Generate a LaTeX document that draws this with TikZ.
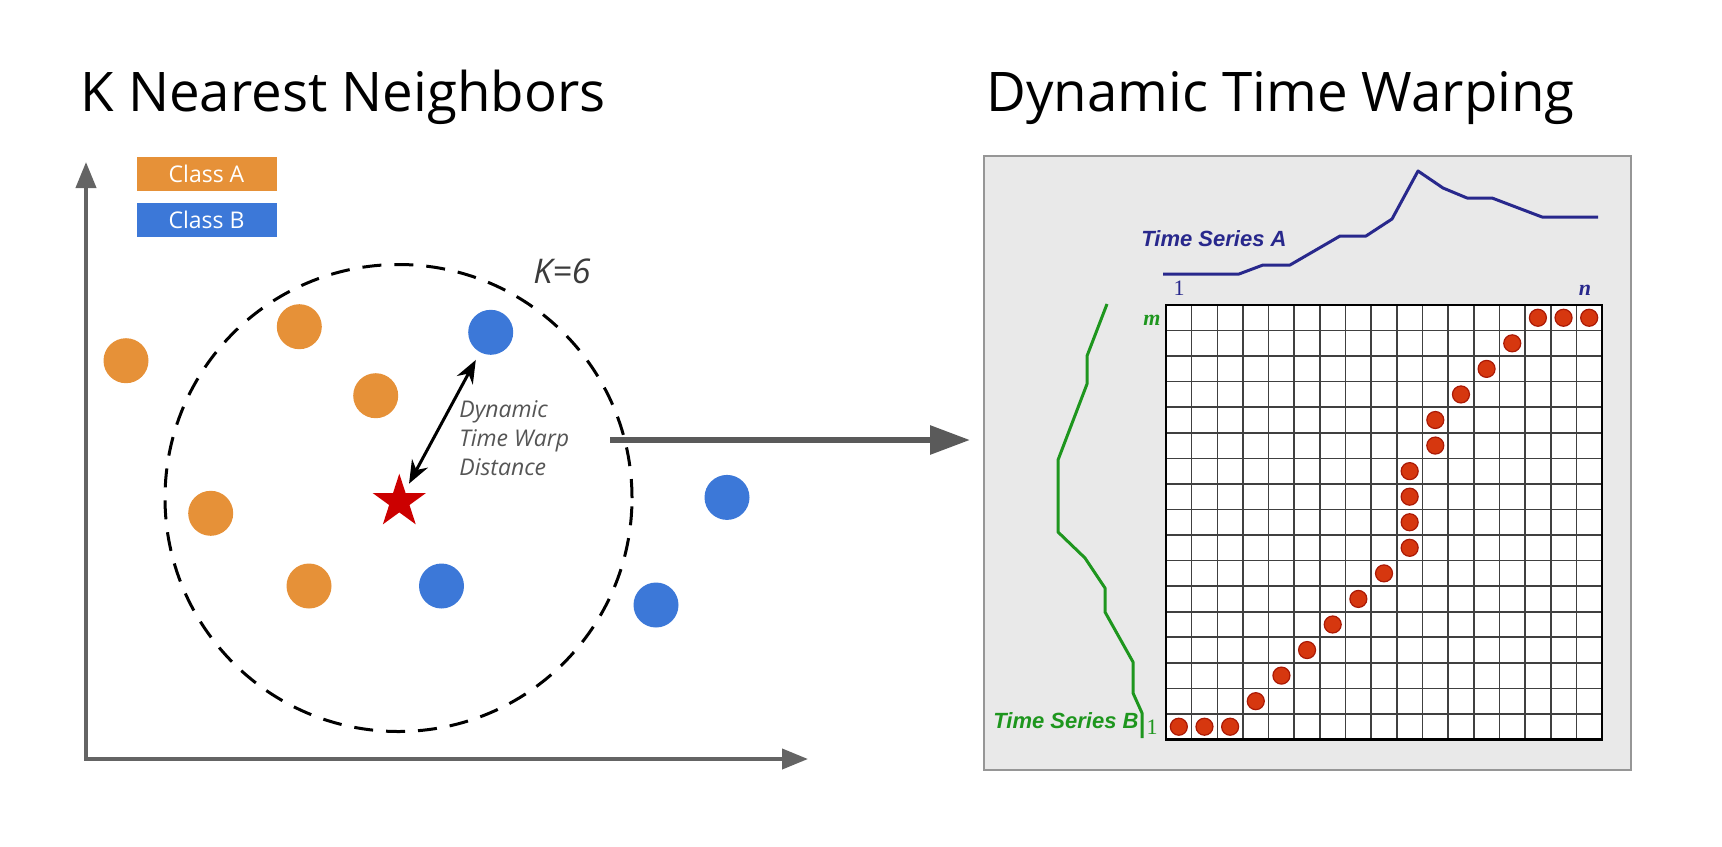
\documentclass[tikz,border=0pt]{standalone}
\usepackage{fontspec}
\setmainfont{Open Sans}
\newfontfamily\seriesfont{Liberation Sans}
\newfontfamily\indexfont{Liberation Serif}
\usepackage{tikz}
\usetikzlibrary{shapes.geometric, arrows.meta, positioning}
\usepackage{xcolor}
\definecolor{classorange}{RGB}{230, 145, 56}
\definecolor{classblue}{RGB}{60, 120, 216}
\definecolor{starred}{RGB}{204, 0, 0}
\definecolor{axisgray}{RGB}{100, 100, 100}
\definecolor{arrowgray}{RGB}{90, 90, 90}
\definecolor{notegray}{RGB}{85, 85, 85}
\definecolor{panelgray}{RGB}{233, 233, 233}
\definecolor{paneledge}{RGB}{150, 150, 150}
\definecolor{seriesnavy}{RGB}{40, 40, 140}
\definecolor{seriesgreen}{RGB}{30, 150, 30}
\definecolor{dotred}{RGB}{214, 55, 15}
\definecolor{dotedge}{RGB}{170, 25, 5}

\begin{document}
\begin{tikzpicture}[x=0.5pt, y=-0.5pt,
    heading/.style={anchor=base west, inner sep=0pt, font=\fontsize{27.3}{33}\selectfont},
    legend/.style={rectangle, minimum width=70pt, minimum height=17pt, inner sep=0pt, text=white, font=\fontsize{11.5}{14}\selectfont},
    classA/.style={circle, fill=classorange, minimum size=22.5pt, inner sep=0pt},
    classB/.style={circle, fill=classblue, minimum size=22.5pt, inner sep=0pt},
    axis/.style={draw=axisgray, line width=2pt},
    bigarrow/.style={draw=arrowgray, line width=3pt, -{Triangle[length=20pt, width=14pt]}},
    panel/.style={rectangle, fill=panelgray, draw=paneledge, line width=1pt, minimum width=323.5pt, minimum height=307pt},
    gridline/.style={draw=black!75, line width=0.8pt},
    pathdot/.style={circle, fill=dotred, draw=dotedge, line width=0.6pt, minimum size=8.5pt, inner sep=0pt},
    serieslabel/.style={anchor=base west, inner sep=0pt, font=\seriesfont\bfseries\itshape\fontsize{11}{13}\selectfont},
    indexlabel/.style={inner sep=0pt, font=\indexfont\fontsize{11}{13}\selectfont}
]
    \useasboundingbox (0,0) rectangle (1722,846);

    % Titles
    \node[heading] (knntitle) at (80,111) {K Nearest Neighbors};
    \node[heading] (dtwtitle) at (986,111) {Dynamic Time Warping};

    % Legend
    \node[legend, fill=classorange] (classa) at (206.5,173.7) {Class A};
    \node[legend, fill=classblue, below=5.5pt of classa] (classb) {Class B};

    % Axes
    \coordinate (origin) at (86,759);
    \coordinate (ytop) at (86,162);
    \coordinate (xend) at (808,759);
    \draw[axis, {Triangle[length=13pt, width=10pt]}-{Triangle[length=13pt, width=10pt]}] (ytop) -- (origin) -- (xend);

    % K neighbourhood
    \node[circle, draw=black, line width=1.5pt, dash pattern=on 9.5pt off 6.5pt, minimum size=233.5pt] (knn) at (398.5,498) {};
    \node[anchor=base west, inner sep=0pt, text=notegray!70!black, font=\itshape\fontsize{17}{20}\selectfont] (kval) at (533,283) {K=6};

    % Class A points
    \node[classA] (a1) at (126,360.7) {};
    \node[classA] (a2) at (299.3,326.7) {};
    \node[classA] (a3) at (375.7,395.7) {};
    \node[classA] (a4) at (210.7,513.3) {};
    \node[classA] (a5) at (309,586) {};
    % Class B points
    \node[classB] (b1) at (490.7,332.3) {};
    \node[classB] (b2) at (727,497.4) {};
    \node[classB] (b3) at (441.5,586) {};
    \node[classB] (b4) at (656,605) {};

    % Query point and distance
    \node[star, star points=5, star point ratio=2.618, fill=starred, minimum size=28pt, inner sep=0pt] (query) at (399.3,501.7) {};
    \draw[line width=1.5pt, {Stealth[length=11.5pt, width=9pt]}-{Stealth[length=11.5pt, width=9pt]}, shorten <=4pt, shorten >=4.25pt] (query) -- (b1);
    \node[anchor=north west, align=left, inner sep=0pt, text=notegray, font=\itshape\fontsize{11.5}{14.5}\selectfont] (dtwnote) at (459,400) {Dynamic\\Time Warp\\Distance};

    % DTW panel
    \node[panel] (dtwbox) at (1307.5,463) {};
    \coordinate (warpfrom) at (610,440);
    \draw[bigarrow, shorten >=6.5pt] (warpfrom) -- (dtwbox.west |- warpfrom);

    % Cost matrix
    \begin{scope}[shift={(1166,739.5)}, x=12.8235pt, y=12.78pt]
        \fill[white] (0,0) rectangle (17,17);
        \foreach \i in {1,...,16} {
            \draw[gridline] (\i,0) -- (\i,17);
            \draw[gridline] (0,\i) -- (17,\i);
        }
        \draw[line width=1.25pt] (0,0) rectangle (17,17);
        \foreach \c/\r [count=\k] in {1/1,2/1,3/1,4/2,5/3,6/4,7/5,8/6,9/7,10/8,10/9,10/10,10/11,11/12,11/13,12/14,13/15,14/16,15/17,16/17,17/17}
            \node[pathdot] (w\k) at (\c-0.5,\r-0.5) {};
    \end{scope}

    % Time series A
    \draw[seriesnavy, line width=1.5pt, line join=round] (1163,274) -- (1239,274) -- (1263,265) -- (1290,265) -- (1340,236) -- (1366,236) -- (1392,219) -- (1418,171) -- (1443,188) -- (1467,198) -- (1492,198) -- (1542,217) -- (1598,217);
    \node[serieslabel, text=seriesnavy] (tsa) at (1141,246) {Time Series A};
    \node[indexlabel, text=seriesnavy] (aone) at (1179,288) {1};
    \node[indexlabel, text=seriesnavy, font=\indexfont\bfseries\itshape\fontsize{11}{13}\selectfont] (an) at (1585,290) {n};

    % Time series B
    \draw[seriesgreen, line width=1.5pt, line join=round] (1107,304) -- (1087,356) -- (1087,384) -- (1058,460) -- (1058,532) -- (1085,558) -- (1105,588) -- (1105,612) -- (1133,662) -- (1133,693) -- (1142,713) -- (1142,738);
    \node[serieslabel, text=seriesgreen] (tsb) at (993,728) {Time Series B};
    \node[indexlabel, text=seriesgreen] (bone) at (1152,727) {1};
    \node[indexlabel, text=seriesgreen, font=\indexfont\bfseries\itshape\fontsize{11}{13}\selectfont] (bm) at (1152,320) {m};

\end{tikzpicture}
\end{document}
